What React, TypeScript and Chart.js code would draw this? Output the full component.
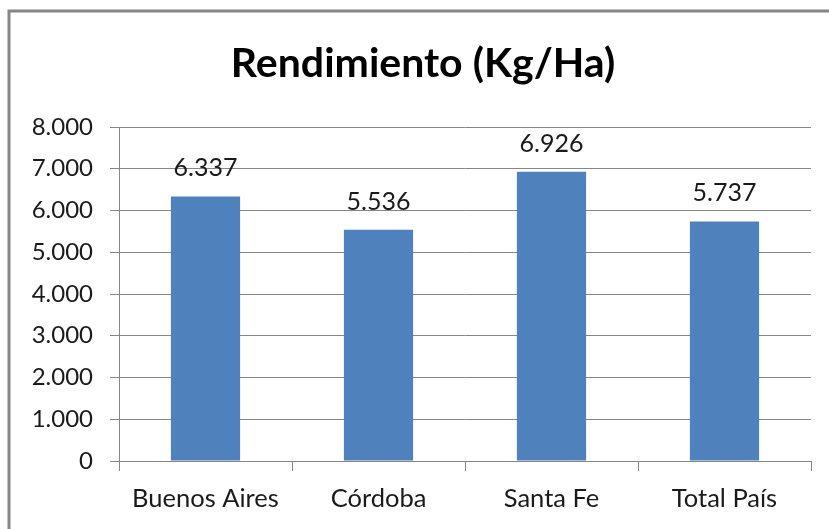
import React, { useEffect, useRef } from "react";
import { Chart, registerables } from "chart.js";

Chart.register(...registerables);

const categories = ["Buenos Aires", "Córdoba", "Santa Fe", "Total País"];
const rendimiento = [6337, 5536, 6926, 5737];
const yTicks = [0, 1000, 2000, 3000, 4000, 5000, 6000, 7000, 8000];
const titleText = "Rendimiento (Kg/Ha)";

const FONT = "Lato, 'Open Sans', sans-serif";
const GRID = "#868686";
const BAR = "#4F81BD";

function fmt(v: number): string {
  return Math.round(v)
    .toString()
    .replace(/\B(?=(\d{3})+(?!\d))/g, ".");
}

const framePlugin = {
  id: "frame",
  beforeDraw(chart: any) {
    const ctx = chart.ctx;
    ctx.save();
    ctx.fillStyle = "#ffffff";
    ctx.fillRect(0, 0, chart.width, chart.height);
    ctx.strokeStyle = "#868686";
    ctx.lineWidth = 3;
    ctx.strokeRect(9, 11, chart.width + 50, chart.height + 50);
    ctx.fillStyle = "#000000";
    ctx.font = `bold 41px ${FONT}`;
    ctx.textAlign = "center";
    ctx.textBaseline = "alphabetic";
    ctx.fillText(titleText, 423, 77);
    ctx.restore();
  },
};

const labelPlugin = {
  id: "valueLabels",
  afterDatasetsDraw(chart: any) {
    const ctx = chart.ctx;
    const meta = chart.getDatasetMeta(0);
    const data = chart.data.datasets[0].data as number[];
    ctx.save();
    ctx.font = `25px ${FONT}`;
    ctx.fillStyle = "#1a1a1a";
    ctx.textAlign = "center";
    ctx.textBaseline = "alphabetic";
    meta.data.forEach((el: any, i: number) => {
      ctx.fillText(fmt(data[i]), el.x, el.y - 20);
    });
    ctx.restore();
  },
};

export default function App() {
  const ref = useRef<HTMLCanvasElement | null>(null);

  useEffect(() => {
    if (!ref.current) return;
    const chart = new Chart(ref.current, {
      type: "bar",
      data: {
        labels: categories,
        datasets: [
          {
            label: titleText,
            data: rendimiento,
            backgroundColor: BAR,
            borderWidth: 0,
            categoryPercentage: 1,
            barPercentage: 0.4,
          },
        ],
      },
      options: {
        animation: false,
        responsive: false,
        maintainAspectRatio: false,
        devicePixelRatio: 1,
        layout: { padding: { left: 0, right: 18, top: 127, bottom: 0 } },
        plugins: {
          legend: { display: false },
          tooltip: { enabled: false },
          title: { display: false },
        },
        scales: {
          x: {
            grid: {
              display: true,
              drawOnChartArea: false,
              drawTicks: true,
              tickLength: 10,
              color: GRID,
              offset: true,
            },
            border: { display: true, color: GRID, width: 1 },
            ticks: {
              color: "#1a1a1a",
              font: { family: FONT, size: 25.5 },
              padding: 12,
              maxRotation: 0,
              autoSkip: false,
            },
            afterFit(scale: any) {
              scale.height = 68;
            },
          },
          y: {
            min: 0,
            max: 8000,
            afterBuildTicks(scale: any) {
              scale.ticks = yTicks.map((v) => ({ value: v }));
            },
            grid: {
              color: GRID,
              lineWidth: 1,
              drawTicks: true,
              tickLength: 9,
            },
            border: { display: true, color: GRID, width: 1 },
            ticks: {
              color: "#1a1a1a",
              font: { family: FONT, size: 24 },
              padding: 17,
              callback: (v: any) => fmt(Number(v)),
            },
            afterFit(scale: any) {
              scale.width = 119;
            },
          },
        },
      },
      plugins: [framePlugin, labelPlugin],
    });
    return () => chart.destroy();
  }, []);

  return (
    <div style={{ position: "fixed", left: 0, top: 0, width: 829, height: 529 }}>
      <canvas ref={ref} width={829} height={529} style={{ width: 829, height: 529 }} />
    </div>
  );
}
